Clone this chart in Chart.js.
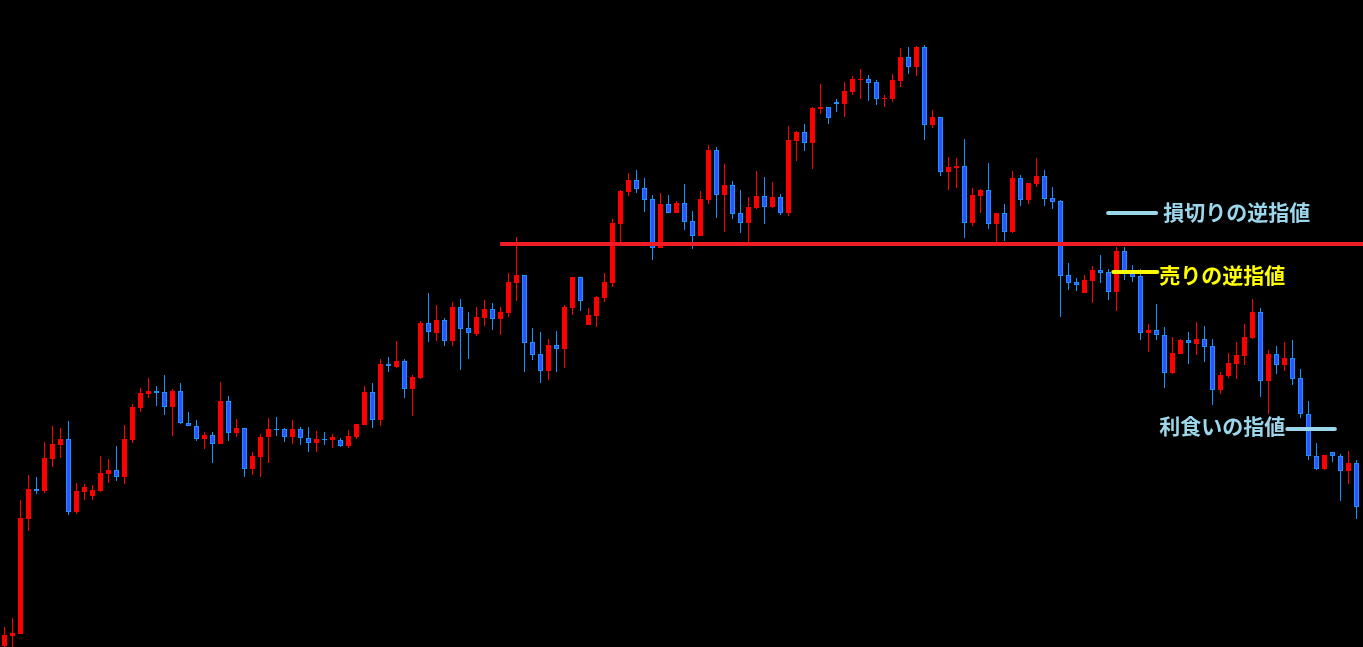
<!DOCTYPE html>
<html>
<head>
<meta charset="utf-8">
<script src="https://cdn.jsdelivr.net/npm/chart.js@4"></script>
<style>
  html, body { margin: 0; padding: 0; background: #000; overflow: hidden; }
  #wrap { width: 1363px; height: 647px; }
</style>
</head>
<body>
<div id="wrap"><canvas id="c" width="1363" height="647"></canvas></div>
<script>
// ---- candle data (prices) ----
const openPrices = [
150.01,150.11,150.13,151.28,151.58,151.56,151.88,152.02,152.08,151.35,
151.55,151.51,151.56,151.73,151.77,151.70,152.07,152.39,152.53,152.56,
152.55,152.40,152.56,152.24,152.21,152.08,152.12,152.03,152.46,152.14,
152.19,151.78,151.90,152.10,152.18,152.18,152.10,152.18,152.09,152.04,
152.08,152.07,152.07,152.01,152.10,152.22,152.55,152.27,152.83,152.80,
152.86,152.58,152.69,153.24,153.14,153.27,153.06,153.40,153.19,153.13,
153.29,153.38,153.28,153.34,153.64,153.72,153.05,152.93,152.76,153.02,
152.98,153.39,153.70,153.22,153.31,153.49,153.64,154.23,154.55,154.67,
154.59,154.48,153.99,154.43,154.34,154.44,154.26,154.11,154.47,154.97,
154.52,154.62,154.34,154.24,154.39,154.51,154.40,154.50,154.34,155.06,
155.15,155.04,155.38,155.40,155.45,155.43,155.55,155.67,155.68,155.65,
155.48,155.48,155.66,155.90,155.80,156.00,155.22,155.30,154.75,154.79,
154.81,154.24,154.51,154.57,154.23,154.34,154.15,154.69,154.47,154.63,
154.71,154.49,154.46,153.72,153.65,153.54,153.66,153.77,153.75,153.55,
153.96,153.75,153.71,153.14,153.17,153.12,152.74,152.93,153.07,153.03,
153.08,153.01,152.57,152.71,152.83,152.91,153.09,153.35,152.66,152.93,
152.82,152.89,152.69,152.33,151.91,151.78,151.95,151.91,151.76,151.84];
const highPrices = [
150.20,150.29,151.47,151.72,151.70,152.05,152.21,152.19,152.26,151.64,
151.63,151.62,151.91,151.88,152.01,152.22,152.43,152.59,152.69,152.61,
152.72,152.58,152.64,152.35,152.27,152.15,152.15,152.65,152.51,152.28,
152.19,151.95,152.13,152.29,152.30,152.19,152.27,152.20,152.20,152.16,
152.15,152.13,152.09,152.17,152.23,152.61,152.64,152.88,152.90,153.06,
152.88,152.72,153.26,153.54,153.42,153.29,153.45,153.48,153.35,153.40,
153.47,153.44,153.40,153.74,154.10,153.72,153.19,153.15,153.08,153.16,
153.42,153.70,153.70,153.39,153.51,153.74,154.28,154.57,154.74,154.77,
154.69,154.52,154.54,154.52,154.46,154.63,154.36,154.56,155.02,155.00,
154.83,154.66,154.57,154.50,154.76,154.70,154.65,154.53,155.21,155.16,
155.23,155.40,155.63,155.40,155.48,155.65,155.71,155.78,155.72,155.67,
155.52,155.73,155.99,156.00,156.01,156.02,155.37,155.30,154.90,154.89,
155.08,154.59,154.58,154.84,154.34,154.43,154.76,154.72,154.64,154.89,
154.77,154.60,154.47,153.84,153.69,153.72,153.81,153.92,153.78,154.00,
154.00,153.82,153.78,153.23,153.43,153.20,153.10,153.08,153.15,153.25,
153.21,153.08,152.75,152.94,153.05,153.23,153.48,153.39,152.97,153.01,
153.05,153.07,152.78,152.46,152.04,151.92,151.95,151.93,151.96,151.87];
const lowPrices = [
150.00,150.00,150.13,151.16,151.53,151.54,151.80,151.89,151.32,151.33,
151.47,151.47,151.55,151.64,151.66,151.63,152.04,152.35,152.49,152.41,
152.32,152.11,152.23,152.21,152.06,151.98,151.84,152.03,152.06,152.10,
151.70,151.72,151.70,151.84,152.11,152.05,152.03,152.02,151.95,151.95,
152.02,151.99,152.00,151.99,152.08,152.22,152.19,152.21,152.75,152.79,
152.49,152.31,152.68,153.05,153.06,153.01,153.01,152.77,152.88,153.11,
153.21,153.17,153.12,153.30,153.46,152.75,152.87,152.64,152.67,152.75,
152.79,153.32,153.36,153.22,153.20,153.45,153.60,154.05,154.51,154.54,
154.35,153.87,153.99,154.34,154.34,154.17,153.98,154.11,154.43,154.29,
154.15,154.28,154.14,154.05,154.38,154.23,154.39,154.32,154.31,154.86,
154.96,154.78,155.33,155.23,155.35,155.30,155.52,155.48,155.46,155.42,
155.40,155.45,155.60,155.73,155.71,155.07,155.19,154.71,154.57,154.59,
154.09,154.21,154.34,154.18,154.04,154.06,154.14,154.41,154.43,154.60,
154.41,154.38,153.30,153.57,153.56,153.54,153.44,153.64,153.47,153.36,
153.67,153.65,153.07,152.95,153.07,152.59,152.73,152.93,152.83,152.92,
152.85,152.42,152.53,152.69,152.68,152.82,153.08,152.50,152.33,152.73,
152.76,152.62,152.29,151.87,151.77,151.77,151.85,151.46,151.63,151.28];
const closePrices = [
150.12,150.14,151.29,151.58,151.56,151.89,152.03,152.08,151.35,151.56,
151.60,151.57,151.74,151.77,151.70,152.08,152.40,152.54,152.56,152.54,
152.40,152.56,152.24,152.21,152.08,152.12,152.03,152.46,152.14,152.19,
151.78,151.91,152.10,152.18,152.17,152.10,152.18,152.09,152.04,152.08,
152.07,152.10,152.01,152.11,152.23,152.55,152.27,152.83,152.81,152.86,
152.58,152.70,153.24,153.15,153.27,153.06,153.40,153.18,153.14,153.30,
153.38,153.28,153.35,153.65,153.72,153.04,152.92,152.76,153.02,152.98,
153.40,153.70,153.46,153.32,153.50,153.65,154.24,154.56,154.67,154.58,
154.47,153.99,154.43,154.34,154.44,154.25,154.11,154.48,154.97,154.52,
154.62,154.33,154.24,154.40,154.51,154.40,154.50,154.34,155.07,155.15,
155.04,155.39,155.40,155.29,155.43,155.56,155.68,155.68,155.64,155.48,
155.49,155.67,155.90,155.80,156.00,155.22,155.30,154.75,154.80,154.81,
154.24,154.52,154.57,154.23,154.34,154.15,154.69,154.47,154.64,154.71,
154.48,154.45,153.71,153.64,153.62,153.67,153.77,153.74,153.55,153.96,
153.75,153.70,153.14,153.17,153.12,152.74,152.94,153.07,153.04,153.08,
153.00,152.57,152.72,152.84,152.92,153.10,153.35,152.66,152.93,152.82,
152.89,152.68,152.33,151.91,151.78,151.92,151.91,151.76,151.84,151.40];

// ---- order levels ----
const resistanceLevel = 154.03;
const resistanceStart = 61.95;
const orderNames   = ['損切りの逆指値', '売りの逆指値', '利食いの指値'];
const orderLevels  = [154.34, 153.75, 152.18];
const orderStarts  = [137.95, 138.6, 160.35];
const orderEnds    = [143.95, 144.1, 166.3];
const orderColors  = ['#9cd6ea', '#ffff00', '#9cd6ea'];
const labelIndex   = [144.85, 144.35, 144.35];
const labelPrices  = [154.35, 153.72, 152.21];

const X_MIN = -0.5625, X_MAX = 169.8125;
const Y_MIN = 150.00, Y_MAX = 156.47;

const UP = '#ff0000';
const DOWN_FILL = '#2c55ff';
const DOWN_EDGE = '#1e8fff';

const idx = openPrices.map((_, i) => i);
const isUp = i => closePrices[i] >= openPrices[i];

const wickData = idx.map(i => ({ x: i, y: [lowPrices[i], highPrices[i]] }));
const bodyData = idx.map(i => ({ x: i, y: [openPrices[i], closePrices[i]] }));

const datasets = [
  {
    type: 'bar', label: 'wick', data: wickData, grouped: false, order: 3,
    barThickness: 1, inflateAmount: 0, borderWidth: 0,
    backgroundColor: ctx => isUp(ctx.dataIndex) ? UP : DOWN_EDGE
  },
  {
    type: 'bar', label: 'body', data: bodyData, grouped: false, order: 2,
    barThickness: 5, inflateAmount: 0, borderSkipped: false,
    borderWidth: ctx => isUp(ctx.dataIndex) ? 0 : 1,
    borderColor: ctx => isUp(ctx.dataIndex) ? UP : DOWN_EDGE,
    backgroundColor: ctx => isUp(ctx.dataIndex) ? UP : DOWN_FILL
  },
  {
    type: 'line', label: 'resistance', order: 1,
    data: [{ x: resistanceStart, y: resistanceLevel }, { x: X_MAX, y: resistanceLevel }],
    borderColor: '#ee1c25', borderWidth: 4, pointRadius: 0, borderCapStyle: 'butt'
  }
];
orderNames.forEach((n, k) => {
  datasets.push({
    type: 'line', label: n, order: 0,
    data: [{ x: orderStarts[k], y: orderLevels[k] }, { x: orderEnds[k], y: orderLevels[k] }],
    borderColor: orderColors[k], borderWidth: 4, pointRadius: 0, borderCapStyle: 'round'
  });
});

const labelPlugin = {
  id: 'orderLabels',
  afterDatasetsDraw(chart) {
    const { ctx, scales } = chart;
    ctx.save();
    ctx.font = 'bold 21px "Noto Sans CJK JP"';
    ctx.textBaseline = 'middle';
    ctx.textAlign = 'left';
    orderNames.forEach((n, k) => {
      ctx.fillStyle = orderColors[k];
      ctx.fillText(n, scales.x.getPixelForValue(labelIndex[k]), scales.y.getPixelForValue(labelPrices[k]));
    });
    ctx.restore();
  }
};

const bgPlugin = {
  id: 'bg',
  beforeDraw(chart) {
    const c = chart.ctx;
    c.save(); c.fillStyle = '#000'; c.fillRect(0, 0, chart.width, chart.height); c.restore();
  }
};

new Chart(document.getElementById('c'), {
  type: 'bar',
  data: { datasets },
  options: {
    responsive: false,
    animation: false,
    layout: { padding: 0 },
    parsing: true,
    plugins: { legend: { display: false }, tooltip: { enabled: false } },
    scales: {
      x: { type: 'linear', min: X_MIN, max: X_MAX, offset: false, display: false },
      y: { type: 'linear', min: Y_MIN, max: Y_MAX, display: false }
    }
  },
  plugins: [bgPlugin, labelPlugin]
});
</script>
</body>
</html>
